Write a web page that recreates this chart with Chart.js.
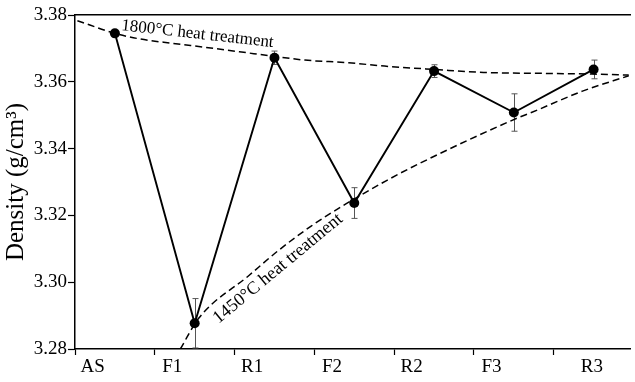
<!DOCTYPE html>
<html>
<head>
<meta charset="utf-8">
<script src="https://cdn.jsdelivr.net/npm/chart.js@4/dist/chart.umd.min.js"></script>
<style>
  html, body { margin: 0; padding: 0; background: #fff; overflow: hidden; }
  #wrap { width: 635px; height: 382px; }
</style>
</head>
<body>
<div id="wrap"><canvas id="c" width="635" height="382"></canvas></div>
<script>
// Sample sequence: as-sintered, then alternating 1450 °C (F) and 1800 °C (R) treatments
const categories = ['AS', 'F1', 'R1', 'F2', 'R2', 'F3', 'R3'];
const density = [3.3745, 3.2877, 3.3672, 3.3237, 3.3632, 3.3508, 3.3637];
const densityError = [0, 0.0074, 0.0020, 0.0046, 0.0019, 0.0056, 0.0028];
const yTicks = [3.28, 3.30, 3.32, 3.34, 3.36, 3.38];

// Trend curves, sampled as (category position, density)
const curve1800X = [-0.47, 0, 0.32, 0.73, 1.14, 1.56, 2.0, 2.38, 2.93, 3.38, 4.0, 4.62, 5.45, 6.0, 6.44];
const curve1800Y = [3.3783, 3.3745, 3.3728, 3.3715, 3.3703, 3.3690, 3.3676, 3.3665, 3.3657, 3.3647, 3.3637, 3.3628, 3.3625, 3.3623, 3.3620];
const curve1450X = [0.82, 1.05, 1.68, 2.05, 2.46, 2.88, 3.41, 3.83, 5.03, 5.22, 5.86, 6.44];
const curve1450Y = [3.2800, 3.2892, 3.3020, 3.3095, 3.3168, 3.3232, 3.3305, 3.3357, 3.3490, 3.3508, 3.3572, 3.3618];

const SERIF = '"Liberation Serif", "Times New Roman", serif';
const X_MAX = 6.456;       // last category band is cut by the frame
const LABEL_SHIFT = -0.28; // category names sit slightly left of the points

const pairs = (xs, ys) => xs.map((x, i) => ({ x, y: ys[i] }));

// Vertical error bars with short caps, drawn beneath the markers
const errorBars = {
  id: 'errorBars',
  beforeDatasetsDraw(chart) {
    const { ctx, scales: { x, y } } = chart;
    ctx.save();
    ctx.strokeStyle = '#555';
    ctx.lineWidth = 1;
    density.forEach((v, i) => {
      const e = densityError[i];
      if (!e) return;
      const px = Math.round(x.getPixelForValue(i)) + 0.5;
      const top = y.getPixelForValue(v + e);
      const bot = y.getPixelForValue(v - e);
      ctx.beginPath();
      ctx.moveTo(px, top); ctx.lineTo(px, bot);
      ctx.moveTo(px - 3, top); ctx.lineTo(px + 3, top);
      ctx.moveTo(px - 3, bot); ctx.lineTo(px + 3, bot);
      ctx.stroke();
    });
    ctx.restore();
  }
};

// Rotated captions placed along the two trend curves
const curveLabels = {
  id: 'curveLabels',
  afterDatasetsDraw(chart, args, opts) {
    const { ctx, scales: { x, y } } = chart;
    opts.items.forEach(item => {
      ctx.save();
      ctx.translate(x.getPixelForValue(item.at[0]), y.getPixelForValue(item.at[1]));
      ctx.rotate(item.angle * Math.PI / 180);
      ctx.font = `${item.size}px ${SERIF}`;
      ctx.fillStyle = '#000';
      ctx.textAlign = 'left';
      ctx.textBaseline = 'alphabetic';
      ctx.fillText(item.text, 0, 0);
      ctx.restore();
    });
  }
};

new Chart(document.getElementById('c'), {
  type: 'line',
  data: {
    datasets: [
      {
        label: 'Density',
        data: pairs(categories.map((_, i) => i), density),
        borderColor: '#000',
        borderWidth: 1.9,
        pointRadius: 5,
        pointBackgroundColor: '#000',
        pointBorderColor: '#000',
        pointBorderWidth: 0,
        tension: 0
      },
      {
        label: '1800°C heat treatment',
        data: pairs(curve1800X, curve1800Y),
        borderColor: '#000',
        borderWidth: 1.5,
        borderDash: [7, 4],
        pointRadius: 0,
        cubicInterpolationMode: 'monotone'
      },
      {
        label: '1450°C heat treatment',
        data: pairs(curve1450X, curve1450Y),
        borderColor: '#000',
        borderWidth: 1.5,
        borderDash: [7, 4],
        pointRadius: 0,
        cubicInterpolationMode: 'monotone'
      }
    ]
  },
  options: {
    responsive: false,
    devicePixelRatio: 1,
    animation: false,
    layout: { padding: { top: 15, right: 0, bottom: 0, left: 0 } },
    plugins: {
      legend: { display: false },
      tooltip: { enabled: false },
      curveLabels: {
        items: [
          { text: '1800°C heat treatment', at: [0.075, 3.3755], angle: 6.4, size: 17 },
          { text: '1450°C heat treatment', at: [1.3, 3.2875], angle: -39.6, size: 18 }
        ]
      }
    },
    scales: {
      x: {
        type: 'linear',
        position: 'bottom',
        min: -0.5,
        max: X_MAX,
        bounds: 'data',
        afterBuildTicks(scale) {
          const ticks = [];
          categories.forEach((name, i) => {
            ticks.push({ value: i - 0.5, name: '' });
            const last = i === categories.length - 1;
            const pos = last ? (i - 0.5 + Math.min(i + 0.5, X_MAX)) / 2 : i + LABEL_SHIFT;
            ticks.push({ value: pos, name });
          });
          scale.ticks = ticks.filter(t => t.value <= X_MAX).sort((a, b) => a.value - b.value);
        },
        afterFit(scale) { scale.height = 33; },
        grid: {
          drawOnChartArea: false,
          tickLength: 6,
          tickWidth: 1.2,
          tickColor: ctx => (ctx.tick && ctx.tick.name) ? 'rgba(0,0,0,0)' : '#000'
        },
        border: { color: '#000', width: 1.5 },
        ticks: {
          autoSkip: false,
          maxRotation: 0,
          padding: 1,
          color: '#000',
          font: { family: SERIF, size: 19 },
          callback: (v, i, ts) => ts[i].name || ''
        }
      },
      xTop: {
        type: 'linear',
        position: 'top',
        afterFit(scale) { scale.height = 0; },
        grid: { display: false, drawTicks: false },
        border: { display: true, color: '#000', width: 1.5 },
        ticks: { display: false }
      },
      y: {
        min: 3.28,
        max: 3.38,
        afterBuildTicks(scale) { scale.ticks = yTicks.map(value => ({ value })); },
        afterFit(scale) { scale.width = 75; },
        grid: { drawOnChartArea: false, tickLength: 7, tickWidth: 1.2, tickColor: '#000' },
        border: { color: '#000', width: 1.5 },
        ticks: {
          padding: 1,
          color: '#000',
          font: { family: SERIF, size: 19 },
          callback: v => v.toFixed(2)
        },
        title: {
          display: true,
          text: 'Density (g/cm³)',
          color: '#000',
          font: { family: SERIF, size: 25 },
          padding: { top: 1, bottom: 0 }
        }
      }
    }
  },
  plugins: [errorBars, curveLabels]
});
</script>
</body>
</html>
